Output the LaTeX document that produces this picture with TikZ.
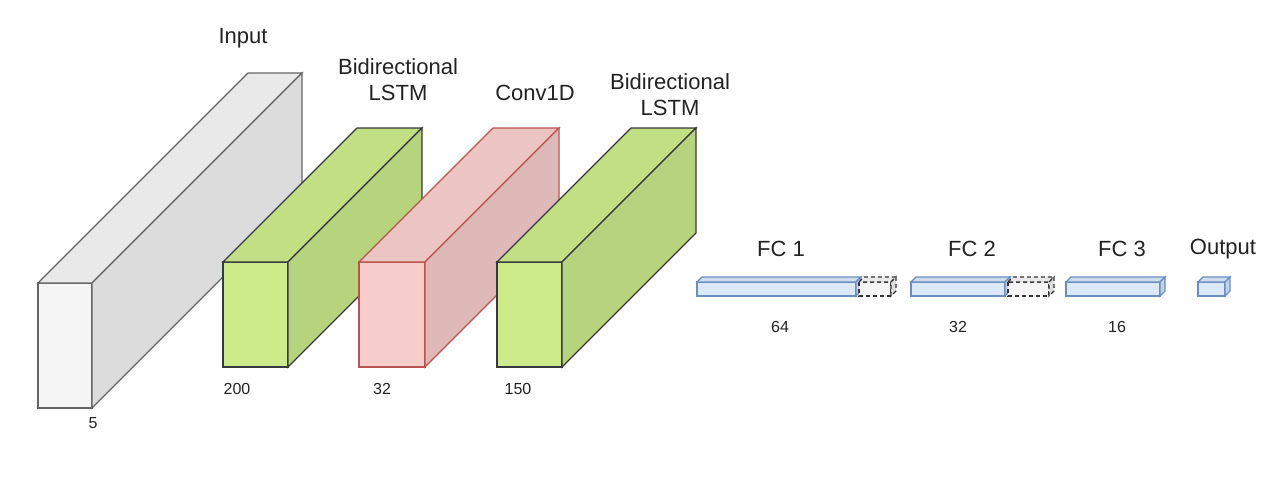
\documentclass[tikz,border=0pt]{standalone}
\usepackage{fontspec}
\setmainfont{Liberation Sans}
\usepackage{xcolor}
\usetikzlibrary{calc}

\definecolor{inputfill}{HTML}{F5F5F5}
\definecolor{inputline}{HTML}{666666}
\definecolor{lstmfill}{HTML}{CDEB8B}
\definecolor{lstmline}{HTML}{36393D}
\definecolor{convfill}{HTML}{F8CECC}
\definecolor{convline}{HTML}{B85450}
\definecolor{fcfill}{HTML}{DAE8FC}
\definecolor{fcline}{HTML}{6C8EBF}
\definecolor{dropfill}{HTML}{F5F5F5}
\definecolor{dropline}{HTML}{333333}
\definecolor{txt}{HTML}{222222}

% 3D box: #1 extra style, #2 fill, #3 line, #4 x1, #5 x2, #6 y1, #7 y2, #8 depth
\newcommand{\cuboid}[8]{%
	\filldraw[#1, fill=#2, draw=#3] (#4,#6) rectangle (#5,#7);
	\filldraw[#1, fill=#2!95!black, draw=#3]
		(#4,#6) -- (#4+#8,#6-#8) -- (#5+#8,#6-#8) -- (#5,#6) -- cycle;
	\filldraw[#1, fill=#2!90!black, draw=#3]
		(#5,#6) -- (#5+#8,#6-#8) -- (#5+#8,#7-#8) -- (#5,#7) -- cycle;
}

\tikzset{
	layer/.style={line width=1.3pt, line join=miter},
	drop/.style={line width=1.3pt, dashed, dash pattern=on 4pt off 3pt},
	title/.style={text=txt, font=\fontsize{22}{26}\selectfont, align=center, inner sep=0pt},
	size/.style={text=txt, font=\fontsize{16}{19}\selectfont, inner sep=0pt}
}

\begin{document}
\begin{tikzpicture}[x=1pt, y=-1pt]
	\useasboundingbox (0,0) rectangle (1280,483);

	% convolutional / recurrent part
	\cuboid{layer}{inputfill}{inputline}{38}{92}{283}{408}{210}
	\cuboid{layer}{lstmfill}{lstmline}{223}{288}{262}{367}{134}
	\cuboid{layer}{convfill}{convline}{359}{425}{262}{367}{134}
	\cuboid{layer}{lstmfill}{lstmline}{497}{562}{262}{367}{134}

	% dense part
	\cuboid{layer}{fcfill}{fcline}{697}{856}{282}{296}{5}
	\cuboid{drop}{dropfill}{dropline}{859}{891}{282}{296}{5}
	\cuboid{layer}{fcfill}{fcline}{911}{1005}{282}{296}{5}
	\cuboid{drop}{dropfill}{dropline}{1008}{1049}{282}{296}{5}
	\cuboid{layer}{fcfill}{fcline}{1066}{1160}{282}{296}{5}
	\cuboid{layer}{fcfill}{fcline}{1198}{1225}{282}{296}{5}

	\draw
		(243,38) node[title] (input) {Input}
		(398,80) node[title] (lstm1) {Bidirectional\\LSTM}
		(535,93) node[title] (conv) {Conv1D}
		(670,95) node[title] (lstm2) {Bidirectional\\LSTM}
		(781,249) node[title] (fc1) {FC 1}
		(972,249) node[title] (fc2) {FC 2}
		(1122,249) node[title] (fc3) {FC 3}
		(1223,249) node[title] (out) {Output};

	\draw
		(93,423) node[size] (n5) {5}
		(237,389) node[size] (n200) {200}
		(382,389) node[size] (n32a) {32}
		(518,389) node[size] (n150) {150}
		(780,327) node[size] (n64) {64}
		(958,327) node[size] (n32b) {32}
		(1117,327) node[size] (n16) {16};
\end{tikzpicture}
\end{document}
